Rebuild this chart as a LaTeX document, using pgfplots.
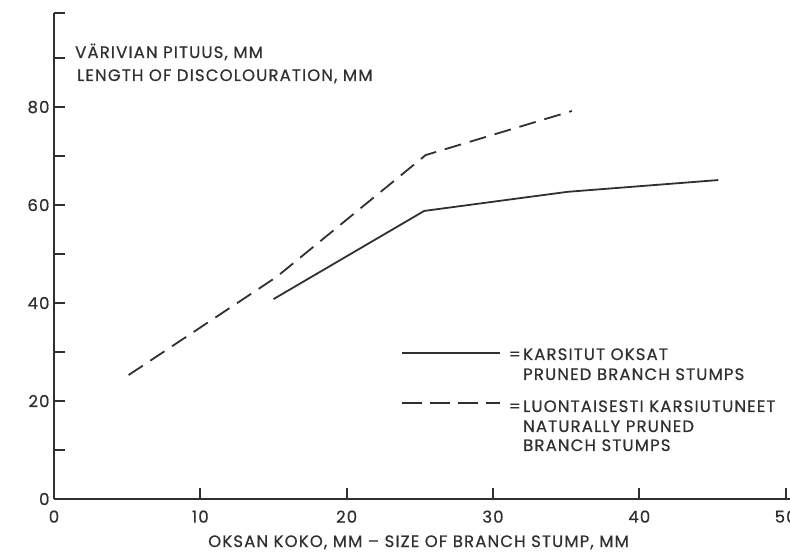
\documentclass[border=0pt]{standalone}
\usepackage{pgfplots}
\pgfplotsset{compat=1.18}
\usepackage{fontspec}
\setmainfont{Poppins}
\newfontfamily\lbl{Poppins}[LetterSpace=7, FakeBold=0.6]
\definecolor{ink}{HTML}{303030}
\newcommand{\tf}{\lbl\fontsize{16.5bp}{19bp}\selectfont\color{ink}}
\begin{document}
\begin{tikzpicture}
\useasboundingbox (-54bp,-54bp) rectangle (736bp,499bp);
\begin{axis}[
  scale only axis, width=736bp, height=486bp,
  xmin=0, xmax=50.3, ymin=0, ymax=99.2,
  axis x line=bottom, axis y line=left,
  axis line style={-, line width=2.2bp, color=ink},
  xtick={0,10,20,30,40,50},
  ytick={0,20,40,60,80},
  minor ytick={10,30,50,70,90,99.2},
  tick align=inside,
  major tick length=11bp, minor tick length=11bp,
  every tick/.style={line width=2bp, color=ink},
  /pgf/number format/assume math mode=true,
  xticklabel style={font=\tf, yshift=-8bp},
  yticklabel style={font=\tf, xshift=-1bp},
  clip=false,
]
\addplot[color=ink, line width=1.8bp] coordinates {
  (15,40.8) (25.3,58.8) (35.1,62.7) (45.4,65.1)
};
\addplot[color=ink, line width=1.8bp, dash pattern=on 17bp off 9bp] coordinates {
  (5.1,25.3) (15.2,45.3) (25.4,70.2) (35.4,79.2)
};
\end{axis}
% y-axis title
\node[anchor=base west, inner sep=0pt] at (21bp,441bp) {\tf VÄRIVIAN PITUUS, MM};
\node[anchor=base west, inner sep=0pt] at (23bp,418bp) {\tf LENGTH OF DISCOLOURATION, MM};
% x-axis title
\node[anchor=base west, inner sep=0pt] at (154bp,-48bp) {\tf OKSAN KOKO, MM – SIZE OF BRANCH STUMP, MM};
% legend
\draw[color=ink, line width=1.8bp] (348bp,146bp) -- (446bp,146bp);
\node[anchor=base east, inner sep=0pt] at (467bp,139bp) {\tf =};
\node[anchor=base west, inner sep=0pt] at (469bp,139bp) {\tf KARSITUT OKSAT};
\node[anchor=base west, inner sep=0pt] at (469bp,119bp) {\tf PRUNED BRANCH STUMPS};
\draw[color=ink, line width=1.8bp, dash pattern=on 20bp off 8bp] (348bp,96bp) -- (446bp,96bp);
\node[anchor=base east, inner sep=0pt] at (467bp,87bp) {\tf =};
\node[anchor=base west, inner sep=0pt] at (469bp,87bp) {\tf LUONTAISESTI KARSIUTUNEET};
\node[anchor=base west, inner sep=0pt] at (469bp,67bp) {\tf NATURALLY PRUNED};
\node[anchor=base west, inner sep=0pt] at (469bp,48bp) {\tf BRANCH STUMPS};
\end{tikzpicture}
\end{document}
